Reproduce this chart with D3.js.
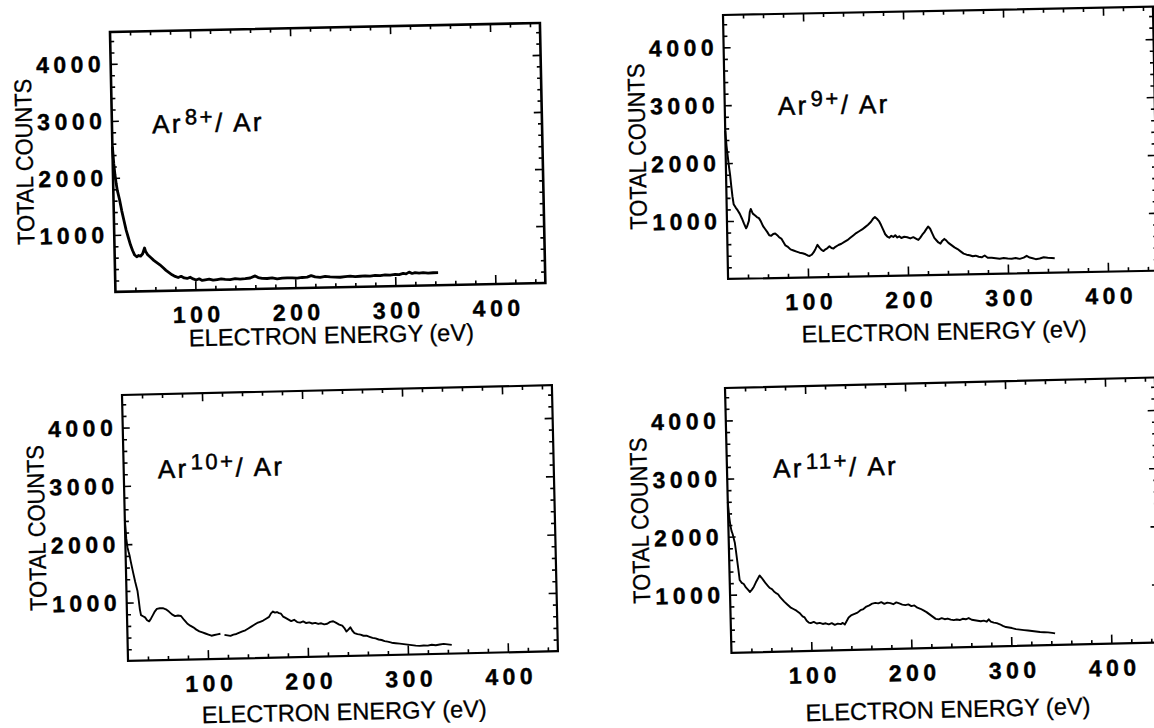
<!DOCTYPE html>
<html>
<head>
<meta charset="utf-8">
<script src="https://cdn.jsdelivr.net/npm/d3@7"></script>
<style>
  body { margin: 0; background: #fff; }
  svg { display: block; }
</style>
</head>
<body>
<svg id="fig" width="1154" height="728"></svg>
<script>
// axis ranges and labelled ticks, shared by all four panels
const ENERGY_DOMAIN = [20, 450];
const COUNT_DOMAIN = [0, 4560];
const energyTicks = [100, 200, 300, 400];
const countTicks = [1000, 2000, 3000, 4000];
const ionCharges = ['8+', '9+', '10+', '11+'];

// spectra: [electron energy (eV), total counts]
const ar8 = [[20,2550],[21,2250],[22,2050],[23,1900],[24,1780],[26,1620],[28,1420],[30,1250],[32,1080],[34,950],[36,820],[38,720],[40,640],[42,610],[44,630],[46,620],[48,660],[50,760],[51,700],[53,640],[56,590],[59,540],[62,500],[65,460],[68,410],[71,360],[74,320],[77,280],[80,250],[83,230],[86,250],[89,220],[92,210],[95,230],[98,200],[101,180],[104,200],[107,170],[110,180],[114,190],[118,170],[122,180],[126,190],[130,180],[135,175],[140,190],[145,180],[150,185],[155,195],[160,230],[163,200],[167,185],[172,180],[177,190],[182,170],[187,180],[192,185],[197,180],[202,175],[207,185],[212,190],[216,215],[220,190],[225,180],[230,195],[235,185],[240,180],[245,175],[250,185],[255,190],[260,180],[265,185],[270,190],[275,185],[280,195],[285,190],[290,200],[295,195],[300,205],[304,200],[308,220],[311,210],[314,240],[317,215],[320,230],[324,220],[328,225],[333,215],[338,220],[343,220]];

const ar9 = [[20,2560],[21,2300],[22,2120],[23,1950],[24,1800],[25,1600],[26,1420],[27,1290],[29,1230],[31,1180],[33,1120],[35,1040],[37,950],[39,870],[40,900],[42,1000],[43,1150],[44,1200],[46,1120],[48,1090],[50,1060],[52,1040],[54,980],[56,900],[58,850],[60,800],[62,740],[64,730],[66,760],[68,770],[70,740],[72,700],[74,680],[76,620],[78,560],[80,540],[83,490],[86,470],[89,450],[92,430],[95,420],[98,400],[100,380],[102,370],[104,390],[106,430],[108,490],[110,560],[112,510],[114,470],[116,450],[118,480],[120,500],[122,530],[124,500],[126,490],[128,520],[131,550],[134,570],[137,600],[140,630],[143,670],[146,710],[149,750],[152,780],[155,810],[158,850],[161,890],[164,940],[166,990],[168,1020],[170,990],[172,950],[174,880],[176,800],[178,720],[180,680],[182,660],[184,690],[186,670],[188,700],[190,660],[192,680],[194,650],[197,670],[200,660],[203,640],[206,660],[209,630],[211,610],[213,650],[215,700],[217,740],[219,790],[221,840],[223,800],[225,720],[227,640],[229,600],[231,560],[233,540],[235,590],[237,620],[239,590],[241,550],[244,510],[247,470],[250,440],[253,400],[256,360],[259,340],[262,330],[265,310],[268,320],[271,300],[274,290],[277,320],[280,280],[284,280],[288,270],[292,260],[296,270],[300,260],[304,255],[308,265],[312,250],[316,270],[319,300],[322,270],[325,255],[328,240],[332,250],[336,270],[340,260],[344,255],[347,250]];

const ar10 = [[20,2420],[21,2100],[22,1950],[23,1870],[24,1800],[25,1700],[27,1520],[29,1350],[31,1200],[32,1050],[33,880],[34,780],[36,760],[38,740],[40,690],[42,670],[44,720],[46,780],[48,840],[50,880],[53,890],[56,890],[59,870],[62,830],[65,780],[68,750],[71,760],[74,750],[77,680],[80,620],[83,580],[86,550],[89,510],[92,480],[95,460],[98,440],[101,420],[104,400],[107,410],[110,420],[113,430],null,[117,410],[120,400],[123,390],[126,410],[129,420],[132,440],[135,460],[138,480],[141,510],[144,540],[147,570],[150,600],[153,620],[156,640],[159,670],[162,700],[164,760],[166,790],[168,770],[170,780],[172,760],[174,750],[176,700],[178,680],[181,650],[184,620],[187,640],[190,600],[193,590],[196,610],[199,580],[202,590],[205,570],[208,580],[211,560],[214,570],[217,550],[220,560],[223,590],[226,600],[229,570],[232,540],[235,520],[237,480],[239,420],[241,450],[243,490],[245,430],[247,390],[250,370],[253,360],[256,340],[259,340],[262,320],[265,300],[268,290],[271,270],[274,260],[277,240],[280,230],[284,210],[288,200],[292,190],[296,180],[300,170],[304,160],[308,150],[312,145],[316,150],[320,145],[324,160],[328,150],[332,160],[336,170],[340,160],[344,150]];

const ar11 = [[20,2600],[21,2350],[22,2200],[23,2100],[24,2050],[26,1900],[27,1750],[28,1580],[29,1420],[30,1250],[32,1200],[34,1180],[36,1120],[38,1080],[40,1040],[42,1080],[44,1130],[46,1200],[48,1260],[50,1320],[52,1280],[54,1230],[56,1180],[58,1140],[60,1100],[62,1080],[64,1040],[66,1010],[68,990],[70,940],[72,900],[74,860],[77,810],[80,760],[83,730],[86,700],[89,660],[92,600],[94,580],[96,520],[98,490],[100,480],[103,500],[106,470],[109,480],[112,460],[115,470],[118,450],[121,470],[124,440],[127,460],[130,450],[132,470],[134,440],[136,500],[138,560],[141,600],[144,620],[147,640],[150,680],[153,700],[156,740],[159,760],[162,790],[165,800],[168,790],[171,810],[174,780],[177,800],[180,790],[183,770],[186,800],[189,780],[192,760],[195,750],[198,760],[201,730],[204,740],[207,700],[210,680],[213,650],[216,620],[219,580],[222,540],[225,500],[228,490],[231,510],[234,490],[237,500],[240,480],[243,470],[246,480],[249,470],[252,490],[255,480],[258,500],[261,470],[264,460],[267,450],[270,440],[273,450],[276,430],[278,470],[280,430],[283,410],[286,400],[289,380],[292,350],[295,330],[298,320],[301,310],[305,290],[309,280],[313,270],[317,260],[321,250],[325,240],[329,230],[333,225],[337,220],[341,210],[344,200]];

const spectra = [ar8, ar9, ar10, ar11];

// where each frame sits on the scanned page (top-left corner + slight tilt of the scan)
const panels = [
  { x: 110, y: 32,  angle: -1.2, w: 430, h: 260, lineW: 2.8, frameW: 2.6, titleGap: 56, label: [40, 102] },
  { x: 723, y: 15,  angle: -1.1, w: 430, h: 264, lineW: 2.0, frameW: 2.2, titleGap: 65, label: [53, 101] },
  { x: 122, y: 395, angle: -1.3, w: 430, h: 266, lineW: 1.9, frameW: 2.2, titleGap: 64, label: [34, 84] },
  { x: 725, y: 388, angle: -1.4, w: 430, h: 265, lineW: 1.9, frameW: 2.2, titleGap: 70, label: [46, 91] }
];

const FONT = "'Liberation Sans', Arial, Helvetica, sans-serif";
const TICK_LS = 4.5;
const fmt = d3.format('d');

const svg = d3.select('#fig');
svg.append('rect').attr('width', 1154).attr('height', 728).attr('fill', '#fff');

const minorEnergy = d3.range(40, 450, 20).filter(v => v % 100 !== 0);
const minorCounts = d3.range(200, 4560, 200).filter(v => v % 1000 !== 0);

panels.forEach((p, i) => {
  const g = svg.append('g')
    .attr('transform', `translate(${p.x},${p.y}) rotate(${p.angle})`);

  const x = d3.scaleLinear().domain(ENERGY_DOMAIN).range([0, p.w]);
  const y = d3.scaleLinear().domain(COUNT_DOMAIN).range([p.h, 0]);

  // inward ticks on all four sides
  const tickAxes = [
    [d3.axisBottom(x).tickValues(minorEnergy).tickSize(-4), `translate(0,${p.h})`],
    [d3.axisBottom(x).tickValues(energyTicks).tickSize(-9), `translate(0,${p.h})`],
    [d3.axisTop(x).tickValues(minorEnergy).tickSize(-4), null],
    [d3.axisTop(x).tickValues(energyTicks).tickSize(-8), null],
    [d3.axisLeft(y).tickValues(minorCounts).tickSize(-4), null],
    [d3.axisLeft(y).tickValues(countTicks).tickSize(-7), null],
    [d3.axisRight(y).tickValues(minorCounts).tickSize(-4), `translate(${p.w},0)`],
    [d3.axisRight(y).tickValues(countTicks).tickSize(-8), `translate(${p.w},0)`]
  ];
  tickAxes.forEach(([ax, tr]) => {
    const a = g.append('g').call(ax.tickFormat(''));
    if (tr) a.attr('transform', tr);
    a.select('.domain').remove();
    a.selectAll('line').attr('stroke', '#000').attr('stroke-width', 1.6);
  });

  // tick labels
  const xl = g.append('g')
    .attr('transform', `translate(0,${p.h})`)
    .call(d3.axisBottom(x).tickValues(energyTicks).tickFormat(fmt).tickSize(0).tickPadding(16));
  xl.select('.domain').remove();
  xl.selectAll('text')
    .attr('font-family', FONT).attr('font-size', 23).attr('font-weight', 'bold')
    .attr('letter-spacing', TICK_LS).attr('dx', TICK_LS / 2)
    .attr('fill', '#000').attr('stroke', '#000').attr('stroke-width', 0.4);

  const yl = g.append('g')
    .call(d3.axisLeft(y).tickValues(countTicks).tickFormat(fmt).tickSize(0).tickPadding(10 - TICK_LS));
  yl.select('.domain').remove();
  yl.selectAll('text')
    .attr('font-family', FONT).attr('font-size', 23).attr('font-weight', 'bold')
    .attr('letter-spacing', TICK_LS)
    .attr('fill', '#000').attr('stroke', '#000').attr('stroke-width', 0.4);

  // frame
  g.append('rect')
    .attr('width', p.w).attr('height', p.h)
    .attr('fill', 'none').attr('stroke', '#000').attr('stroke-width', p.frameW);

  // spectrum
  const line = d3.line()
    .defined(d => d !== null)
    .x(d => x(d[0]))
    .y(d => y(d[1]));
  g.append('path')
    .datum(spectra[i])
    .attr('d', line)
    .attr('fill', 'none')
    .attr('stroke', '#000')
    .attr('stroke-width', p.lineW)
    .attr('stroke-linejoin', 'round');

  // axis titles
  g.append('text')
    .attr('x', p.w / 2).attr('y', p.h + p.titleGap)
    .attr('text-anchor', 'middle')
    .attr('font-family', FONT).attr('font-size', 24)
    .attr('stroke', '#000').attr('stroke-width', 0.3)
    .attr('textLength', 285).attr('lengthAdjust', 'spacingAndGlyphs')
    .text('ELECTRON ENERGY (eV)');

  g.append('text')
    .attr('transform', `translate(-80,${p.h / 2 - 2}) rotate(-90)`)
    .attr('text-anchor', 'middle')
    .attr('font-family', FONT).attr('font-size', 24)
    .attr('stroke', '#000').attr('stroke-width', 0.3)
    .attr('textLength', 166).attr('lengthAdjust', 'spacingAndGlyphs')
    .text('TOTAL COUNTS');

  // ion label, e.g. Ar^8+/ Ar
  const lab = g.append('text')
    .attr('x', p.label[0]).attr('y', p.label[1])
    .attr('font-family', FONT).attr('font-size', 26)
    .attr('stroke', '#000').attr('stroke-width', 0.5)
    .attr('letter-spacing', 2.5);
  lab.append('tspan').text('Ar');
  lab.append('tspan').attr('dy', -8).attr('font-size', 22).attr('dx', 2).text(ionCharges[i]);
  lab.append('tspan').attr('dy', 8).text('/ Ar');
});
</script>
</body>
</html>
